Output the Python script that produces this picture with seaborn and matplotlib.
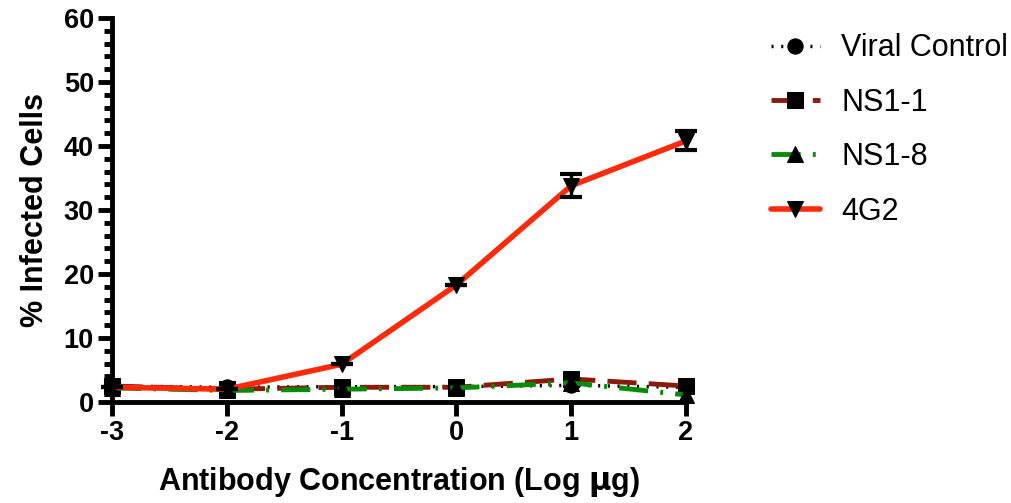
import numpy as np
import pandas as pd
import matplotlib
matplotlib.use("Agg")
import matplotlib.pyplot as plt
import seaborn as sns
from matplotlib.ticker import MultipleLocator

x_log = [-3, -2, -1, 0, 1, 2]
viral_control = [2.5, 2.3, 2.4, 2.4, 2.6, 2.3]
ns1_1 = [2.5, 2.0, 2.3, 2.3, 3.6, 2.5]
ns1_8 = [2.2, 1.8, 2.0, 2.2, 3.0, 1.1]
g4g2 = [2.3, 2.0, 5.9, 18.3, 33.8, 40.8]
g4g2_err = [0, 0, 0, 0, 1.8, 1.5]

sns.set_theme(style="white")
plt.rcParams['font.family'] = ['Liberation Sans', 'DejaVu Sans']
plt.rcParams['axes.unicode_minus'] = False

fig = plt.figure(figsize=(10.12, 5.03), dpi=100)
ax = fig.add_axes([0.1107, 0.2008, 0.5672, 0.7634])

series = [
    ("Viral Control", viral_control, "black", (0, (0.6, 2.2)), "o", 2.5),
    ("NS1-1", ns1_1, "#8B1A0A", (0, (6, 2.5)), "s", 3.5),
    ("NS1-8", ns1_8, "#0A8A0A", (0, (6, 2.5, 0.6, 2.5)), "^", 3.5),
    ("4G2", g4g2, "#FF2A0A", "-", "v", 4),
]

for name, vals, col, ls, mk, lw in series:
    df = pd.DataFrame({"x": x_log, "y": vals})
    sns.lineplot(data=df, x="x", y="y", ax=ax, color=col, linestyle=ls,
                 linewidth=lw, marker=mk, markersize=11, markerfacecolor="black",
                 markeredgecolor="black", label=name, clip_on=False, zorder=3)

ax.errorbar(x_log, g4g2, yerr=g4g2_err, fmt="none", ecolor="black",
            elinewidth=2.5, capsize=8, capthick=3, zorder=4, clip_on=False)

ax.set_xlim(-3, 2)
ax.set_ylim(0, 60)
ax.set_xticks(x_log)
ax.set_yticks([0, 10, 20, 30, 40, 50, 60])
ax.yaxis.set_minor_locator(MultipleLocator(2))
for s in ["top", "right"]:
    ax.spines[s].set_visible(False)
for s in ["left", "bottom"]:
    ax.spines[s].set_linewidth(3.5)
    ax.spines[s].set_color("black")
ax.tick_params(axis="both", which="major", length=10, width=3.5, color="black",
               labelsize=19.5, direction="out", pad=3, left=True, bottom=True,
               labelcolor="black")
ax.tick_params(axis="y", which="minor", length=6, width=3.5, color="black", left=True)
for lab in ax.get_xticklabels() + ax.get_yticklabels():
    lab.set_fontweight("bold")
ax.set_xlabel("Antibody Concentration (Log $\\mathbf{\\mu}$g)", fontsize=22,
              fontweight="bold", labelpad=14, color="black")
ax.set_ylabel("% Infected Cells", fontsize=22, fontweight="bold", labelpad=10,
              color="black")

leg = ax.legend(loc="upper left", bbox_to_anchor=(1.1, 1.032), frameon=False,
                fontsize=22, handlelength=1.6, labelspacing=0.8, handletextpad=0.7)
for t in leg.get_texts():
    t.set_color("black")

fig.savefig("out.png", dpi=100)
